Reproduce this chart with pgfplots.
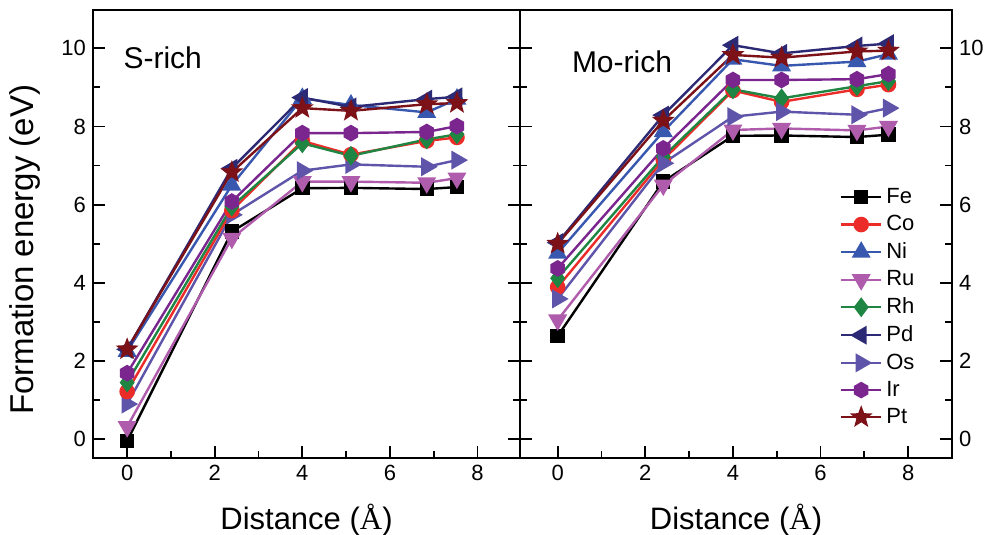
\documentclass[border=0pt]{standalone}
\usepackage{pgfplots}
\usepackage{pgfplotstable}
\pgfplotsset{compat=1.18}
\usepackage{fontspec}
\setmainfont{Liberation Sans}
\newfontfamily\serifA{Liberation Serif}

\definecolor{cFe}{RGB}{0,0,0}
\definecolor{cCo}{RGB}{236,44,40}
\definecolor{cNi}{RGB}{56,88,176}
\definecolor{cRu}{RGB}{176,92,172}
\definecolor{cRh}{RGB}{30,134,66}
\definecolor{cPd}{RGB}{44,42,116}
\definecolor{cOs}{RGB}{94,84,170}
\definecolor{cIr}{RGB}{122,38,142}
\definecolor{cPt}{RGB}{124,18,24}

% filled hexagon and filled five-pointed star marks
\pgfdeclareplotmark{hexagon*}{%
  \pgfpathmoveto{\pgfpointpolar{90}{\pgfplotmarksize}}%
  \pgfpathlineto{\pgfpointpolar{150}{\pgfplotmarksize}}%
  \pgfpathlineto{\pgfpointpolar{210}{\pgfplotmarksize}}%
  \pgfpathlineto{\pgfpointpolar{270}{\pgfplotmarksize}}%
  \pgfpathlineto{\pgfpointpolar{330}{\pgfplotmarksize}}%
  \pgfpathlineto{\pgfpointpolar{30}{\pgfplotmarksize}}%
  \pgfpathclose
  \pgfusepathqfillstroke}
\pgfdeclareplotmark{fstar}{%
  \pgfpathmoveto{\pgfpointpolar{90}{\pgfplotmarksize}}%
  \pgfpathlineto{\pgfpointpolar{126}{0.42\pgfplotmarksize}}%
  \pgfpathlineto{\pgfpointpolar{162}{\pgfplotmarksize}}%
  \pgfpathlineto{\pgfpointpolar{198}{0.42\pgfplotmarksize}}%
  \pgfpathlineto{\pgfpointpolar{234}{\pgfplotmarksize}}%
  \pgfpathlineto{\pgfpointpolar{270}{0.42\pgfplotmarksize}}%
  \pgfpathlineto{\pgfpointpolar{306}{\pgfplotmarksize}}%
  \pgfpathlineto{\pgfpointpolar{342}{0.42\pgfplotmarksize}}%
  \pgfpathlineto{\pgfpointpolar{18}{\pgfplotmarksize}}%
  \pgfpathlineto{\pgfpointpolar{54}{0.42\pgfplotmarksize}}%
  \pgfpathclose
  \pgfusepathqfillstroke}

% formation energy (eV) against distance (angstrom)
\pgfplotstableread{
x     Fe    Co   Ni   Ru   Rh   Pd    Os   Ir   Pt
0    -0.04  1.22 2.25 0.32 1.45 2.30  0.90 1.69 2.30
2.39  5.31  5.85 6.50 5.14 5.95 6.93  5.74 6.08 6.83
4.00  6.42  7.63 8.72 6.59 7.57 8.74  6.87 7.83 8.47
5.11  6.43  7.28 8.55 6.59 7.25 8.50  7.03 7.83 8.40
6.84  6.40  7.63 8.36 6.56 7.67 8.70  6.97 7.86 8.57
7.53  6.45  7.72 8.70 6.68 7.80 8.76  7.14 8.01 8.60
}\srich
\pgfplotstableread{
x     Fe    Co   Ni   Ru   Rh   Pd    Os   Ir   Pt
0     2.64  3.89 4.76 3.05 4.12 5.03  3.59 4.37 5.00
2.41  6.59  7.15 7.87 6.50 7.23 8.29  7.06 7.44 8.15
4.00  7.76  8.92 9.72 7.91 8.95 10.08 8.25 9.19 9.83
5.11  7.77  8.63 9.55 7.95 8.72 9.87  8.38 9.19 9.76
6.83  7.73  8.95 9.66 7.90 9.03 10.06 8.30 9.21 9.92
7.55  7.79  9.07 9.85 8.00 9.16 10.12 8.47 9.34 9.94
}\morich

\pgfplotsset{
  panel/.style={
    scale only axis, height=224pt,
    ymin=-0.48, ymax=10.98,
    ytick={0,2,...,10}, minor ytick={1,3,...,9},
    xtick={0,2,...,8}, minor xtick={1,3,5,7},
    xtick pos=bottom, ytick pos=both,
    tick align=inside,
    major tick length=6pt, minor tick length=3.5pt,
    every tick/.style={black, line width=0.9pt},
    axis line style={line width=1pt},
    /pgf/number format/assume math mode=true,
    tick label style={font=\fontsize{11}{13}\selectfont},
    label style={font=\fontsize{15.5}{18}\selectfont},
    xlabel={Distance ({\serifA Å})},
    xlabel style={at={(axis description cs:0.5,-0.138)}, anchor=center},
    every axis plot/.append style={line width=1.2pt},
    legend image code/.code={%
      \draw[mark repeat=2,mark phase=2] plot coordinates {(0cm,0cm) (0.35cm,0cm) (0.7cm,0cm)};},
  },
  sFe/.style={color=cFe, mark=square*, mark size=3pt, mark options={solid, fill=cFe}},
  sCo/.style={color=cCo, mark=*, mark size=3.3pt, mark options={solid, fill=cCo}},
  sNi/.style={color=cNi, mark=triangle*, mark size=4.3pt, mark options={solid, fill=cNi}},
  sRu/.style={color=cRu, mark=triangle*, mark size=4.3pt, mark options={solid, fill=cRu, rotate=180}},
  sRh/.style={color=cRh, mark=diamond*, mark size=4pt, mark options={solid, fill=cRh}},
  sPd/.style={color=cPd, mark=triangle*, mark size=4.3pt, mark options={solid, fill=cPd, rotate=90}},
  sOs/.style={color=cOs, mark=triangle*, mark size=4.3pt, mark options={solid, fill=cOs, rotate=-90}},
  sIr/.style={color=cIr, mark=hexagon*, mark size=3.5pt, mark options={solid, fill=cIr}},
  sPt/.style={color=cPt, mark=fstar, mark size=4.3pt, mark options={solid, fill=cPt}},
}

\begin{document}
\begin{tikzpicture}
\begin{axis}[panel, name=L, at={(0,0)}, anchor=south west,
  width=213.5pt, xmin=-0.78, xmax=8.97,
  yticklabel pos=left,
  ylabel={Formation energy (eV)},
  ylabel style={at={(axis description cs:-0.16,0.465)}, anchor=center,
    font=\fontsize{16.5}{19}\selectfont},
]
\addplot[sFe] table[x=x, y=Fe] {\srich};
\addplot[sRu] table[x=x, y=Ru] {\srich};
\addplot[sOs] table[x=x, y=Os] {\srich};
\addplot[sCo] table[x=x, y=Co] {\srich};
\addplot[sRh] table[x=x, y=Rh] {\srich};
\addplot[sIr] table[x=x, y=Ir] {\srich};
\addplot[sNi] table[x=x, y=Ni] {\srich};
\addplot[sPd] table[x=x, y=Pd] {\srich};
\addplot[sPt] table[x=x, y=Pt] {\srich};
\node[anchor=west, font=\fontsize{15}{18}\selectfont] at (axis description cs:0.055,0.893) {S-rich};
\end{axis}

\begin{axis}[panel, name=R, at={(L.south east)}, anchor=south west,
  width=216pt, xmin=-0.86, xmax=9.0,
  yticklabel pos=right,
  legend style={at={(axis description cs:0.74,0.612)}, anchor=north west,
    draw=none, fill=none, font=\fontsize{11}{13}\selectfont,
    row sep=0.5pt, inner sep=0pt},
  legend cell align=left,
]
\addplot[sFe] table[x=x, y=Fe] {\morich};
\addplot[sCo] table[x=x, y=Co] {\morich};
\addplot[sNi] table[x=x, y=Ni] {\morich};
\addplot[sRu] table[x=x, y=Ru] {\morich};
\addplot[sRh] table[x=x, y=Rh] {\morich};
\addplot[sPd] table[x=x, y=Pd] {\morich};
\addplot[sOs] table[x=x, y=Os] {\morich};
\addplot[sIr] table[x=x, y=Ir] {\morich};
\addplot[sPt] table[x=x, y=Pt] {\morich};
\legend{Fe,Co,Ni,Ru,Rh,Pd,Os,Ir,Pt}
\node[anchor=west, font=\fontsize{15}{18}\selectfont] at (axis description cs:0.104,0.884) {Mo-rich};
\end{axis}

\pgfresetboundingbox
\path[use as bounding box] (-46.5pt,-38.5pt) rectangle (450pt,229pt);
\end{tikzpicture}
\end{document}
